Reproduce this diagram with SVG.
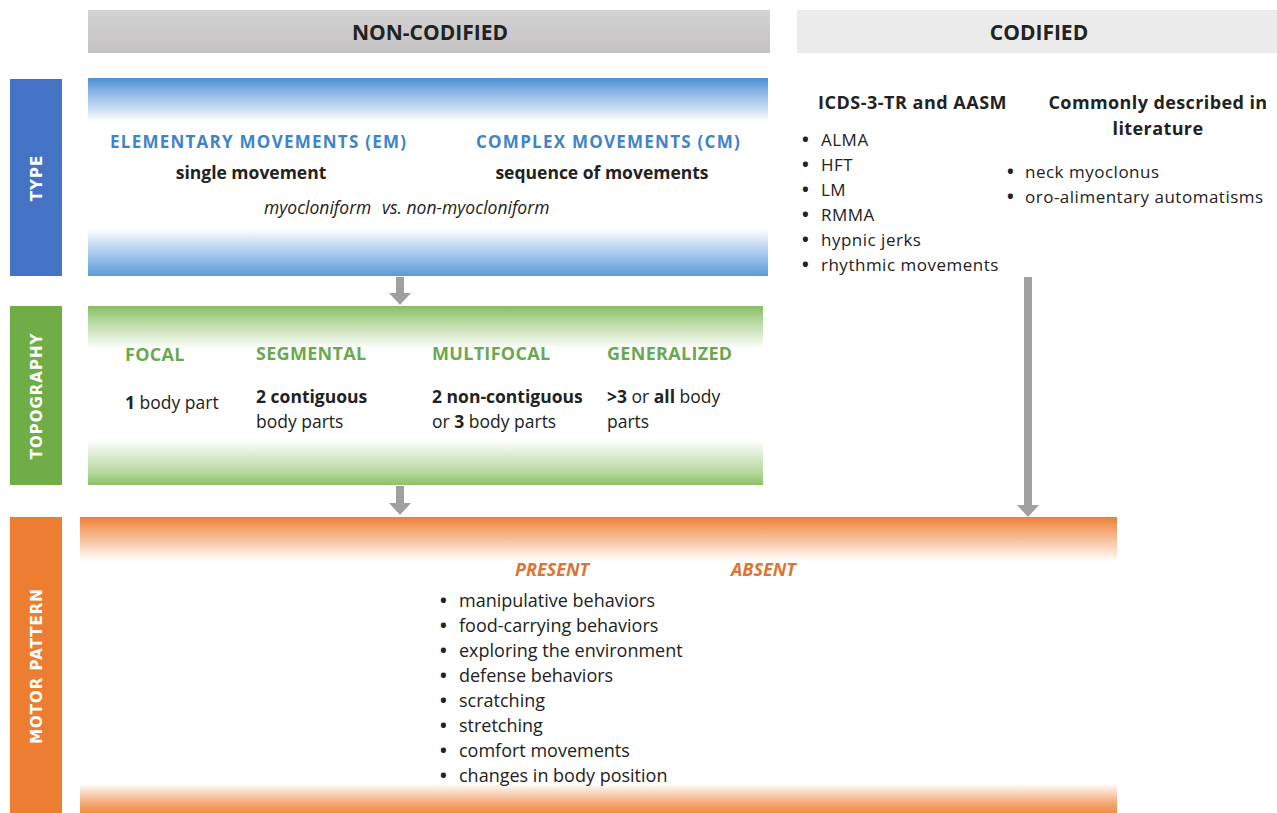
<svg xmlns="http://www.w3.org/2000/svg" width="1277" height="813" viewBox="0 0 1277 813">
<defs>
<linearGradient id="gHead" x1="0" y1="0" x2="0" y2="1"><stop offset="0" stop-color="#d4d3d3"/><stop offset="1" stop-color="#c4c2c2"/></linearGradient>
<linearGradient id="gBlue" x1="0" y1="0" x2="0" y2="1"><stop offset="0" stop-color="#4f8ed6"/><stop offset="0.06" stop-color="#7fb0e2"/><stop offset="0.22" stop-color="#ffffff"/><stop offset="0.76" stop-color="#ffffff"/><stop offset="0.93" stop-color="#8ab8e6"/><stop offset="1" stop-color="#5b9bd5"/></linearGradient>
<linearGradient id="gGreen" x1="0" y1="0" x2="0" y2="1"><stop offset="0" stop-color="#86bd62"/><stop offset="0.06" stop-color="#a9d18e"/><stop offset="0.24" stop-color="#ffffff"/><stop offset="0.75" stop-color="#ffffff"/><stop offset="0.93" stop-color="#b5d89c"/><stop offset="1" stop-color="#8cc168"/></linearGradient>
<linearGradient id="gOrange" x1="0" y1="0" x2="0" y2="1"><stop offset="0" stop-color="#ef7f35"/><stop offset="0.03" stop-color="#f29a5c"/><stop offset="0.15" stop-color="#ffffff"/><stop offset="0.9" stop-color="#ffffff"/><stop offset="0.96" stop-color="#f5b183"/><stop offset="1" stop-color="#f08a42"/></linearGradient>
<style>
text{font-family:"Open Sans","Liberation Sans",sans-serif;}
.hd{font-size:21px;font-weight:bold;fill:#222;text-anchor:middle;}
.side{font-family:"DejaVu Sans","Liberation Sans",sans-serif;font-size:15px;font-weight:bold;fill:#fff;text-anchor:middle;letter-spacing:1px;}
.bt{font-size:17px;font-weight:bold;fill:#3f83c8;letter-spacing:1.25px;}
.gt{font-size:18px;font-weight:bold;fill:#6aa84f;letter-spacing:0.3px;}
.ot{font-size:18px;font-weight:bold;font-style:italic;fill:#dd7433;}
.bk{font-size:17.5px;fill:#222;}
.bb{font-size:17.5px;font-weight:bold;fill:#222;}
.ch{font-size:18px;font-weight:bold;fill:#222;}
.li{font-size:17px;fill:#222;letter-spacing:0.5px;}
.ml{font-size:18px;fill:#222;}
.bu{font-weight:bold;font-size:18px;fill:#222;}
.it{font-size:17.5px;font-style:italic;fill:#222;}
.b{font-weight:bold;}
.arr{fill:#a0a0a0;}
</style>
</defs>
<rect width="1277" height="813" fill="#fff"/>

<g id="header-noncodified">
<rect x="88" y="10" width="682" height="43" fill="url(#gHead)"/>
<text class="hd" x="430" y="40">NON-CODIFIED</text>
</g>
<g id="header-codified">
<rect x="797" y="10" width="480" height="43" fill="#ebebeb"/>
<text class="hd" x="1039" y="40">CODIFIED</text>
</g>

<g id="side-type">
<rect x="10" y="79" width="52" height="197" fill="#4472c4"/>
<text class="side" transform="translate(41.5,178) rotate(-90)">TYPE</text>
</g>
<g id="side-topography">
<rect x="10" y="306" width="52" height="179" fill="#70ad47"/>
<text class="side" transform="translate(41.5,396) rotate(-90)">TOPOGRAPHY</text>
</g>
<g id="side-motor">
<rect x="10" y="517" width="52" height="296" fill="#ed7d31"/>
<text class="side" transform="translate(41.5,666) rotate(-90)">MOTOR PATTERN</text>
</g>

<g id="type-box">
<rect x="88" y="78" width="680" height="198" fill="url(#gBlue)"/>
<text class="bt" x="110" y="148">ELEMENTARY MOVEMENTS (EM)</text>
<text class="bt" x="476" y="148">COMPLEX MOVEMENTS (CM)</text>
<text class="bb" x="251" y="179" text-anchor="middle">single movement</text>
<text class="bb" x="602" y="179" text-anchor="middle">sequence of movements</text>
<text class="it" x="264" y="214">myocloniform</text>
<text class="it" x="382" y="214">vs. non-myocloniform</text>
</g>

<g id="topography-box">
<rect x="88" y="306" width="675" height="179" fill="url(#gGreen)"/>
<text class="gt" x="125" y="361">FOCAL</text>
<text class="gt" x="256" y="360">SEGMENTAL</text>
<text class="gt" x="432" y="360">MULTIFOCAL</text>
<text class="gt" x="607" y="360">GENERALIZED</text>
<text class="bk" x="125" y="409"><tspan class="b">1</tspan> body part</text>
<text class="bk" x="256" y="403"><tspan class="b">2 contiguous</tspan></text>
<text class="bk" x="256" y="428">body parts</text>
<text class="bk" x="432" y="403"><tspan class="b">2 non-contiguous</tspan></text>
<text class="bk" x="432" y="428">or <tspan class="b">3</tspan> body parts</text>
<text class="bk" x="607" y="403"><tspan class="b">&gt;3</tspan> or <tspan class="b">all</tspan> body</text>
<text class="bk" x="607" y="428">parts</text>
</g>

<g id="codified-icsd">
<text class="ch" x="818" y="109" letter-spacing="0.5">ICDS-3-TR and AASM</text>
<text class="bu" x="802" y="146">•</text><text class="li" x="821" y="146">ALMA</text>
<text class="bu" x="802" y="171">•</text><text class="li" x="821" y="171">HFT</text>
<text class="bu" x="802" y="196">•</text><text class="li" x="821" y="196">LM</text>
<text class="bu" x="802" y="221">•</text><text class="li" x="821" y="221">RMMA</text>
<text class="bu" x="802" y="246">•</text><text class="li" x="821" y="246">hypnic jerks</text>
<text class="bu" x="802" y="271">•</text><text class="li" x="821" y="271">rhythmic movements</text>
</g>
<g id="codified-literature">
<text class="ch" x="1158" y="109" text-anchor="middle" letter-spacing="0.4">Commonly described in</text>
<text class="ch" x="1158" y="135" text-anchor="middle" letter-spacing="0.4">literature</text>
<text class="bu" x="1007" y="178">•</text><text class="li" x="1025" y="178">neck myoclonus</text>
<text class="bu" x="1007" y="203">•</text><text class="li" x="1025" y="203">oro-alimentary automatisms</text>
</g>

<g id="motor-box">
<rect x="80" y="517" width="1037" height="296" fill="url(#gOrange)"/>
<text class="ot" x="515" y="576">PRESENT</text>
<text class="ot" x="731" y="576">ABSENT</text>
<text class="bu" x="440" y="607">•</text><text class="ml" x="459" y="607">manipulative behaviors</text>
<text class="bu" x="440" y="632">•</text><text class="ml" x="459" y="632">food-carrying behaviors</text>
<text class="bu" x="440" y="657">•</text><text class="ml" x="459" y="657">exploring the environment</text>
<text class="bu" x="440" y="682">•</text><text class="ml" x="459" y="682">defense behaviors</text>
<text class="bu" x="440" y="707">•</text><text class="ml" x="459" y="707">scratching</text>
<text class="bu" x="440" y="732">•</text><text class="ml" x="459" y="732">stretching</text>
<text class="bu" x="440" y="757">•</text><text class="ml" x="459" y="757">comfort movements</text>
<text class="bu" x="440" y="782">•</text><text class="ml" x="459" y="782">changes in body position</text>
</g>

<g id="connectors">
<path class="arr" d="M396,277 L404,277 L404,293 L411,293 L400,305 L389,293 L396,293 Z"/>
<path class="arr" d="M396,486 L404,486 L404,503 L411,503 L400,515 L389,503 L396,503 Z"/>
<path class="arr" d="M1024,277 L1032,277 L1032,505 L1039,505 L1028,517 L1017,505 L1024,505 Z"/>
</g>
</svg>
